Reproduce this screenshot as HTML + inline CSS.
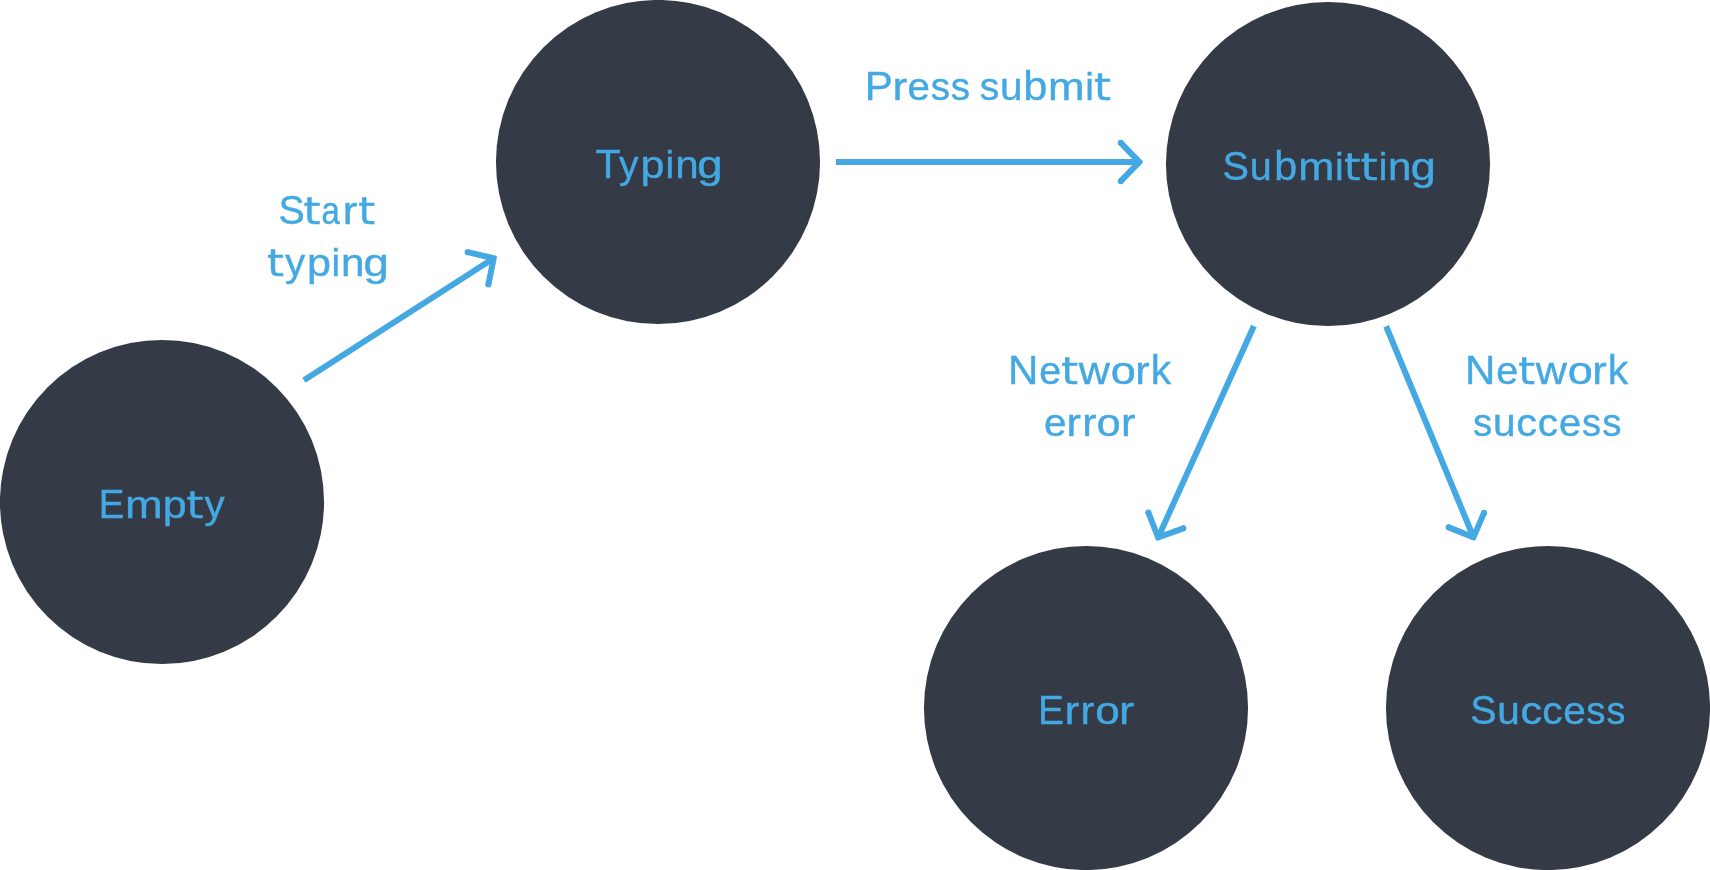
<!DOCTYPE html>
<html lang="en">
<head>
<meta charset="utf-8">
<title>Form state diagram</title>
<style>
html,body{margin:0;padding:0;background:#fff;}
body{width:1710px;height:870px;overflow:hidden;}
svg{display:block;will-change:transform;}
text{font-family:"Liberation Sans",sans-serif;font-size:41px;fill:#44a9e3;stroke:#44a9e3;stroke-width:0.4;}
.c{fill:#343a46;}
.l{fill:none;stroke:#44a9e3;stroke-width:6;stroke-linecap:butt;}
.h{fill:#44a9e3;stroke:#44a9e3;stroke-width:4;stroke-linejoin:round;}
.d{fill:#44a9e3;}
.m{font-size:38px;}
.i{font-size:39px;}
.t{font-family:"DejaVu Sans","Liberation Sans",sans-serif;font-size:37px;}
</style>
</head>
<body>
<svg width="1710" height="870" viewBox="0 0 1710 870">
<!-- state nodes -->
<circle class="c" cx="162" cy="502" r="162.05"/>
<circle class="c" cx="658" cy="162" r="162.05"/>
<circle class="c" cx="1328" cy="164" r="162.05"/>
<circle class="c" cx="1086" cy="708" r="162.05"/>
<circle class="c" cx="1548" cy="708" r="162.05"/>
<!-- transition arrows -->
<g>
<line class="l" x1="303.9" y1="380.2" x2="493.7" y2="258.25"/>
<polygon class="h" points="494.87,257.5 489.37,284.68 487.41,284.29 492.53,259 467.4,253.15 467.86,251.2"/>
<circle class="d" cx="488.39" cy="284.48" r="3"/>
<circle class="d" cx="467.63" cy="252.18" r="3"/>
</g>
<g>
<line class="l" x1="836" y1="162" x2="1139.4" y2="162"/>
<polygon class="h" points="1140.79,162 1121.47,181.9 1120.03,180.5 1138.01,162 1120.03,143.5 1121.47,142.1"/>
<circle class="d" cx="1120.75" cy="181.2" r="3"/>
<circle class="d" cx="1120.75" cy="142.8" r="3"/>
</g>
<g>
<line class="l" x1="1253.9" y1="325.94" x2="1158.15" y2="537.4"/>
<polygon class="h" points="1157.57,538.67 1147.42,512.86 1149.28,512.12 1158.73,536.13 1182.99,527.39 1183.67,529.27"/>
<circle class="d" cx="1148.35" cy="512.49" r="3"/>
<circle class="d" cx="1183.33" cy="528.33" r="3"/>
</g>
<g>
<line class="l" x1="1386.14" y1="326.23" x2="1473.5" y2="537.25"/>
<polygon class="h" points="1474.03,538.54 1448.26,528.29 1449,526.43 1472.97,535.96 1483.19,512.28 1485.02,513.07"/>
<circle class="d" cx="1448.63" cy="527.36" r="3"/>
<circle class="d" cx="1484.11" cy="512.67" r="3"/>
</g>
<!-- labels -->
<text><tspan class="u" x="98.69" y="518" textLength="25.71" lengthAdjust="spacingAndGlyphs">E</tspan><tspan class="m" x="124.99" textLength="37.76" lengthAdjust="spacingAndGlyphs">m</tspan><tspan class="m" x="162.7" textLength="23.95" lengthAdjust="spacingAndGlyphs">p</tspan><tspan class="t" x="186.58" textLength="17.01" lengthAdjust="spacingAndGlyphs">t</tspan><tspan class="m" x="204.53" textLength="20.15" lengthAdjust="spacingAndGlyphs">y</tspan></text>
<text><tspan class="u" x="595.48" y="178" textLength="25.06" lengthAdjust="spacingAndGlyphs">T</tspan><tspan class="m" x="619.1" textLength="19.47" lengthAdjust="spacingAndGlyphs">y</tspan><tspan class="m" x="640.53" textLength="23.87" lengthAdjust="spacingAndGlyphs">p</tspan><tspan class="i" x="665.58" textLength="8.66" lengthAdjust="spacingAndGlyphs">i</tspan><tspan class="m" x="675.3" textLength="23.43" lengthAdjust="spacingAndGlyphs">n</tspan><tspan class="m" x="697.39" textLength="25.35" lengthAdjust="spacingAndGlyphs">g</tspan></text>
<text><tspan class="u" x="1222.5" y="180" textLength="26.42" lengthAdjust="spacingAndGlyphs">S</tspan><tspan class="m" x="1249.83" textLength="21.99" lengthAdjust="spacingAndGlyphs">u</tspan><tspan class="u" x="1274.29" textLength="22.94" lengthAdjust="spacingAndGlyphs">b</tspan><tspan class="m" x="1298.32" textLength="36.14" lengthAdjust="spacingAndGlyphs">m</tspan><tspan class="i" x="1334.88" textLength="8.66" lengthAdjust="spacingAndGlyphs">i</tspan><tspan class="t" x="1344.07" textLength="16.43" lengthAdjust="spacingAndGlyphs">t</tspan><tspan class="t" x="1360.52" textLength="17.23" lengthAdjust="spacingAndGlyphs">t</tspan><tspan class="i" x="1378.75" textLength="8.66" lengthAdjust="spacingAndGlyphs">i</tspan><tspan class="m" x="1388" textLength="23.43" lengthAdjust="spacingAndGlyphs">n</tspan><tspan class="m" x="1410.7" textLength="25.1" lengthAdjust="spacingAndGlyphs">g</tspan></text>
<text><tspan class="u" x="1038.11" y="724" textLength="25.97" lengthAdjust="spacingAndGlyphs">E</tspan><tspan class="m" x="1064.56" textLength="14.72" lengthAdjust="spacingAndGlyphs">r</tspan><tspan class="m" x="1080.54" textLength="13.85" lengthAdjust="spacingAndGlyphs">r</tspan><tspan class="m" x="1095.25" textLength="24.5" lengthAdjust="spacingAndGlyphs">o</tspan><tspan class="m" x="1118.99" textLength="15.12" lengthAdjust="spacingAndGlyphs">r</tspan></text>
<text><tspan class="u" x="1470.31" y="724" textLength="26.24" lengthAdjust="spacingAndGlyphs">S</tspan><tspan class="m" x="1497.23" textLength="22.53" lengthAdjust="spacingAndGlyphs">u</tspan><tspan class="m" x="1520.56" textLength="21.69" lengthAdjust="spacingAndGlyphs">c</tspan><tspan class="m" x="1542.38" textLength="20.29" lengthAdjust="spacingAndGlyphs">c</tspan><tspan class="m" x="1563.33" textLength="22.58" lengthAdjust="spacingAndGlyphs">e</tspan><tspan class="m" x="1586.23" textLength="19.21" lengthAdjust="spacingAndGlyphs">s</tspan><tspan class="m" x="1606.45" textLength="18.92" lengthAdjust="spacingAndGlyphs">s</tspan></text>
<text><tspan class="u" x="864.69" y="100" textLength="28.02" lengthAdjust="spacingAndGlyphs">P</tspan><tspan class="m" x="892.46" textLength="14.75" lengthAdjust="spacingAndGlyphs">r</tspan><tspan class="m" x="907.59" textLength="22.4" lengthAdjust="spacingAndGlyphs">e</tspan><tspan class="m" x="930.73" textLength="19.26" lengthAdjust="spacingAndGlyphs">s</tspan><tspan class="m" x="950.83" textLength="19.26" lengthAdjust="spacingAndGlyphs">s</tspan><tspan x="969.83"> </tspan><tspan class="m" x="979.87" textLength="19.44" lengthAdjust="spacingAndGlyphs">s</tspan><tspan class="m" x="999.97" textLength="22.52" lengthAdjust="spacingAndGlyphs">u</tspan><tspan class="u" x="1023.31" textLength="24.12" lengthAdjust="spacingAndGlyphs">b</tspan><tspan class="m" x="1047.99" textLength="36.5" lengthAdjust="spacingAndGlyphs">m</tspan><tspan class="i" x="1085.13" textLength="8.66" lengthAdjust="spacingAndGlyphs">i</tspan><tspan class="t" x="1093.94" textLength="17" lengthAdjust="spacingAndGlyphs">t</tspan></text>
<text><tspan class="u" x="278.52" y="223.9" textLength="26.13" lengthAdjust="spacingAndGlyphs">S</tspan><tspan class="t" x="303.64" textLength="17" lengthAdjust="spacingAndGlyphs">t</tspan><tspan class="m" x="321.6" textLength="18.35" lengthAdjust="spacingAndGlyphs">a</tspan><tspan class="m" x="342.88" textLength="14.65" lengthAdjust="spacingAndGlyphs">r</tspan><tspan class="t" x="358.34" textLength="16.89" lengthAdjust="spacingAndGlyphs">t</tspan> <tspan class="t" x="266.97" y="275.8" textLength="17" lengthAdjust="spacingAndGlyphs">t</tspan><tspan class="m" x="285.3" textLength="19.87" lengthAdjust="spacingAndGlyphs">y</tspan><tspan class="m" x="306.92" textLength="23.99" lengthAdjust="spacingAndGlyphs">p</tspan><tspan class="i" x="331.58" textLength="8.66" lengthAdjust="spacingAndGlyphs">i</tspan><tspan class="m" x="341.1" textLength="23.43" lengthAdjust="spacingAndGlyphs">n</tspan><tspan class="m" x="363.49" textLength="25.35" lengthAdjust="spacingAndGlyphs">g</tspan></text>
<text><tspan class="u" x="1008.11" y="384.05" textLength="30.32" lengthAdjust="spacingAndGlyphs">N</tspan><tspan class="m" x="1039.32" textLength="21.99" lengthAdjust="spacingAndGlyphs">e</tspan><tspan class="t" x="1061.15" textLength="16.83" lengthAdjust="spacingAndGlyphs">t</tspan><tspan class="m" x="1078.76" textLength="31.13" lengthAdjust="spacingAndGlyphs">w</tspan><tspan class="m" x="1110.81" textLength="25.09" lengthAdjust="spacingAndGlyphs">o</tspan><tspan class="m" x="1135.37" textLength="14.45" lengthAdjust="spacingAndGlyphs">r</tspan><tspan class="u" x="1150.65" textLength="20.39" lengthAdjust="spacingAndGlyphs">k</tspan> <tspan class="m" x="1044.06" y="435.95" textLength="22.48" lengthAdjust="spacingAndGlyphs">e</tspan><tspan class="m" x="1066.63" textLength="14.39" lengthAdjust="spacingAndGlyphs">r</tspan><tspan class="m" x="1082.27" textLength="14.2" lengthAdjust="spacingAndGlyphs">r</tspan><tspan class="m" x="1096.79" textLength="23.91" lengthAdjust="spacingAndGlyphs">o</tspan><tspan class="m" x="1121.03" textLength="14.39" lengthAdjust="spacingAndGlyphs">r</tspan></text>
<text><tspan class="u" x="1465.11" y="384.05" textLength="30.32" lengthAdjust="spacingAndGlyphs">N</tspan><tspan class="m" x="1496.32" textLength="21.99" lengthAdjust="spacingAndGlyphs">e</tspan><tspan class="t" x="1518.15" textLength="16.83" lengthAdjust="spacingAndGlyphs">t</tspan><tspan class="m" x="1535.76" textLength="31.13" lengthAdjust="spacingAndGlyphs">w</tspan><tspan class="m" x="1567.81" textLength="25.09" lengthAdjust="spacingAndGlyphs">o</tspan><tspan class="m" x="1592.37" textLength="14.45" lengthAdjust="spacingAndGlyphs">r</tspan><tspan class="u" x="1607.65" textLength="20.39" lengthAdjust="spacingAndGlyphs">k</tspan> <tspan class="m" x="1473.01" y="435.95" textLength="19.23" lengthAdjust="spacingAndGlyphs">s</tspan><tspan class="m" x="1492.96" textLength="22.58" lengthAdjust="spacingAndGlyphs">u</tspan><tspan class="m" x="1516.34" textLength="20.76" lengthAdjust="spacingAndGlyphs">c</tspan><tspan class="m" x="1537.78" textLength="20.24" lengthAdjust="spacingAndGlyphs">c</tspan><tspan class="m" x="1559.01" textLength="22.16" lengthAdjust="spacingAndGlyphs">e</tspan><tspan class="m" x="1582.04" textLength="19.04" lengthAdjust="spacingAndGlyphs">s</tspan><tspan class="m" x="1602.33" textLength="19.21" lengthAdjust="spacingAndGlyphs">s</tspan></text>
</svg>
</body>
</html>
